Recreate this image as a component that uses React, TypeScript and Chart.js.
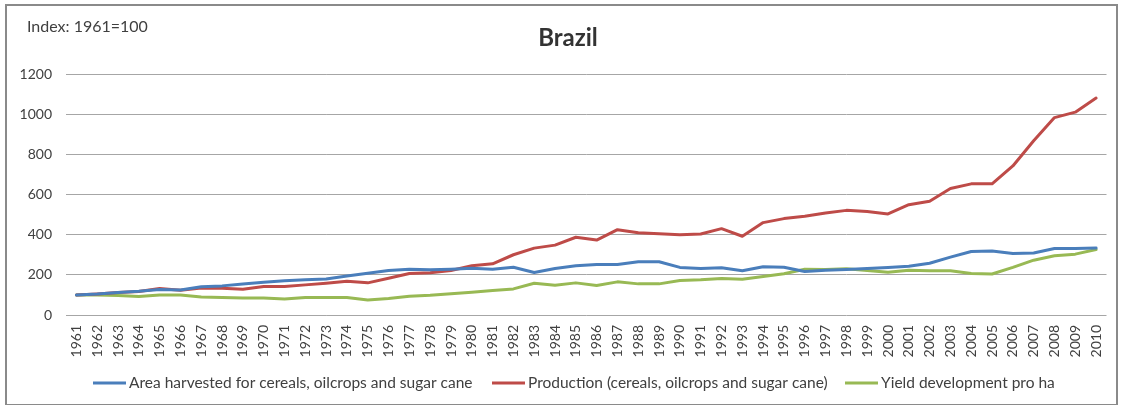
import React, { useEffect, useRef } from "react";
import { Chart, registerables } from "chart.js";

Chart.register(...registerables);

const years: string[] = [];
for (let y = 1961; y <= 2010; y++) years.push(String(y));

const areaHarvested = [
  100, 104, 112, 118, 127, 125, 141, 145, 154, 163,
  171, 176, 179, 194, 208, 222, 228, 225, 228, 233,
  228, 238, 212, 232, 245, 252, 252, 265, 265, 237,
  232, 235, 220, 240, 238, 217, 223, 227, 232, 237,
  243, 258, 288, 316, 319, 306, 309, 331, 331, 334,
];

const production = [
  100, 105, 112, 117, 132, 123, 135, 133, 128, 142,
  142, 150, 158, 168, 160, 183, 207, 210, 222, 245,
  255, 300, 333, 348, 387, 373, 425, 410, 405, 400,
  403, 430, 392, 460, 480, 492, 508, 521, 515, 503,
  549, 566, 630, 653, 653, 742, 868, 983, 1010, 1080,
];

const yieldPerHa = [
  100, 100, 97, 92, 100, 100, 90, 87, 85, 85,
  80, 87, 87, 87, 75, 82, 93, 98, 106, 113,
  122, 130, 158, 148, 160, 147, 165, 155, 155, 172,
  175, 182, 178, 192, 205, 228, 227, 230, 222, 213,
  223, 220, 220, 207, 204, 237, 273, 295, 303, 326,
];

const seriesNames = [
  "Area harvested for cereals, oilcrops and sugar cane",
  "Production (cereals, oilcrops and sugar cane)",
  "Yield development pro ha",
];

const seriesColors = ["#4a7ebb", "#be4b48", "#98b954"];

const titleText = "Brazil";
const indexNote = "Index: 1961=100";

const FONT = "Lato, 'Liberation Sans', sans-serif";

export default function App() {
  const ref = useRef<HTMLCanvasElement | null>(null);

  useEffect(() => {
    if (!ref.current) return;
    const legendStarts = [93, 492, 845];
    const decor = {
      id: "decor",
      beforeDraw(chart: any) {
        const ctx = chart.ctx;
        ctx.save();
        ctx.fillStyle = "#ffffff";
        ctx.fillRect(0, 0, chart.width, chart.height);
        ctx.restore();
      },
      afterDraw(chart: any) {
        const ctx = chart.ctx;
        ctx.save();
        ctx.strokeStyle = "#8a8a8a";
        ctx.lineWidth = 2;
        ctx.strokeRect(6, 5, 1111, 400);
        ctx.fillStyle = "#404040";
        ctx.font = `16px ${FONT}`;
        ctx.textBaseline = "middle";
        ctx.textAlign = "left";
        ctx.fillText(indexNote, 27, 27);
        ctx.font = `bold 24px ${FONT}`;
        ctx.textAlign = "center";
        ctx.fillStyle = "#333333";
        ctx.fillText(titleText, 568, 38);
        // legend
        ctx.font = `15.5px ${FONT}`;
        ctx.textAlign = "left";
        chart.data.datasets.forEach((ds: any, i: number) => {
          const x0 = legendStarts[i];
          const yc = 383;
          ctx.strokeStyle = ds.borderColor;
          ctx.lineWidth = 3;
          ctx.beginPath();
          ctx.moveTo(x0, yc);
          ctx.lineTo(x0 + 33, yc);
          ctx.stroke();
          ctx.fillStyle = "#404040";
          ctx.fillText(ds.label, x0 + 36, yc);
        });
        ctx.restore();
      },
    };

    const chart = new Chart(ref.current, {
      type: "line",
      data: {
        labels: years,
        datasets: [
          { label: seriesNames[0], data: areaHarvested, borderColor: seriesColors[0], backgroundColor: seriesColors[0] },
          { label: seriesNames[1], data: production, borderColor: seriesColors[1], backgroundColor: seriesColors[1] },
          { label: seriesNames[2], data: yieldPerHa, borderColor: seriesColors[2], backgroundColor: seriesColors[2] },
        ],
      },
      options: {
        responsive: false,
        animation: false,
        devicePixelRatio: 1,
        elements: {
          point: { radius: 0 },
          line: { borderWidth: 3, tension: 0, borderCapStyle: "round", borderJoinStyle: "round" },
        },
        layout: {
          autoPadding: false,
          padding: { left: 0, top: 74, right: 10, bottom: 44 },
        },
        plugins: {
          title: { display: false },
          tooltip: { enabled: false },
          legend: { display: false },
        },
        scales: {
          x: {
            type: "category",
            offset: true,
            grid: { display: false, drawTicks: false },
            border: { display: false },
            ticks: {
              autoSkip: false,
              maxRotation: 90,
              minRotation: 90,
              padding: 10,
              color: "#404040",
              font: { family: FONT, size: 14 },
            },
            afterFit(scale: any) {
              scale.height = 46;
            },
          },
          y: {
            min: 0,
            max: 1200,
            grid: { color: "#a6a6a6", lineWidth: 1, drawTicks: false },
            border: { display: false },
            ticks: {
              stepSize: 200,
              padding: 14,
              color: "#404040",
              font: { family: FONT, size: 14 },
              callback: (v: any) => String(v),
            },
            afterFit(scale: any) {
              scale.width = 66;
            },
          },
        },
      },
      plugins: [decor],
    });
    return () => chart.destroy();
  }, []);

  return (
    <div style={{ position: "absolute", left: 0, top: 0, width: 1123, height: 405 }}>
      <canvas ref={ref} width={1123} height={405} style={{ width: 1123, height: 405 }} />
    </div>
  );
}
